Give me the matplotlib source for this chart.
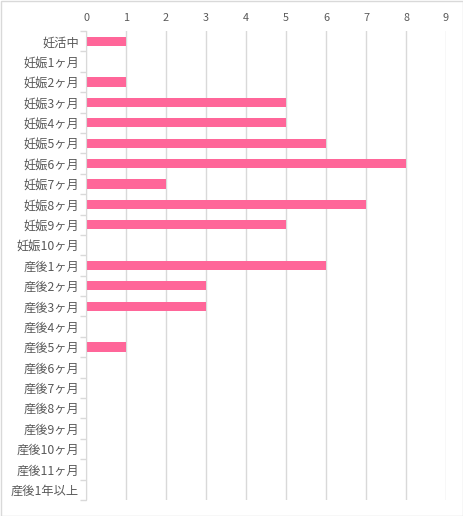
import matplotlib
matplotlib.use("Agg")
import matplotlib.pyplot as plt
from matplotlib.patches import Rectangle

plt.rcParams['font.family'] = ['Noto Sans CJK JP', 'DejaVu Sans']

# カテゴリ（上から順）
categories = [
    "妊活中", "妊娠1ヶ月", "妊娠2ヶ月", "妊娠3ヶ月", "妊娠4ヶ月", "妊娠5ヶ月",
    "妊娠6ヶ月", "妊娠7ヶ月", "妊娠8ヶ月", "妊娠9ヶ月", "妊娠10ヶ月",
    "産後1ヶ月", "産後2ヶ月", "産後3ヶ月", "産後4ヶ月", "産後5ヶ月",
    "産後6ヶ月", "産後7ヶ月", "産後8ヶ月", "産後9ヶ月", "産後10ヶ月",
    "産後11ヶ月", "産後1年以上",
]
counts = [1, 0, 1, 5, 5, 6, 8, 2, 7, 5, 0, 6, 3, 3, 0, 1, 0, 0, 0, 0, 0, 0, 0]
xticks = list(range(0, 10))

text_color = "#595959"
grid_color = "#D9D9D9"

fig = plt.figure(figsize=(4.64, 5.16), dpi=100)
ax = fig.add_axes([86 / 464, 1 - 500 / 516, 360 / 464, 469 / 516])

y = list(range(len(categories)))
ax.barh(y, counts, height=0.45, color="#FF6699", zorder=3)

ax.set_ylim(len(categories) - 0.5, -0.5)
ax.set_xlim(0, 9)
ax.set_xticks(xticks)
ax.xaxis.tick_top()
ax.tick_params(axis="x", length=0, labelsize=7.8, colors=text_color, pad=6)
ax.set_yticks(y)
ax.set_yticklabels(categories)
ax.tick_params(axis="y", length=0, labelsize=8.8, colors=text_color, pad=5)

# カテゴリ境界の小さな目盛り
ax.set_yticks([i - 0.5 for i in range(len(categories) + 1)], minor=True)
ax.tick_params(axis="y", which="minor", length=4, color=grid_color, width=1)

ax.grid(axis="x", color=grid_color, linewidth=1, zorder=0)
for s in ["top", "right", "bottom"]:
    ax.spines[s].set_visible(False)
ax.spines["left"].set_color(grid_color)
ax.spines["left"].set_zorder(4)

fig.patches.append(Rectangle((0.5 / 464, 0.5 / 516), 1 - 1.5 / 464, 1 - 1.5 / 516,
                             transform=fig.transFigure, fill=False,
                             edgecolor="#D9D9D9", linewidth=1))

fig.savefig("out.png", dpi=100)
